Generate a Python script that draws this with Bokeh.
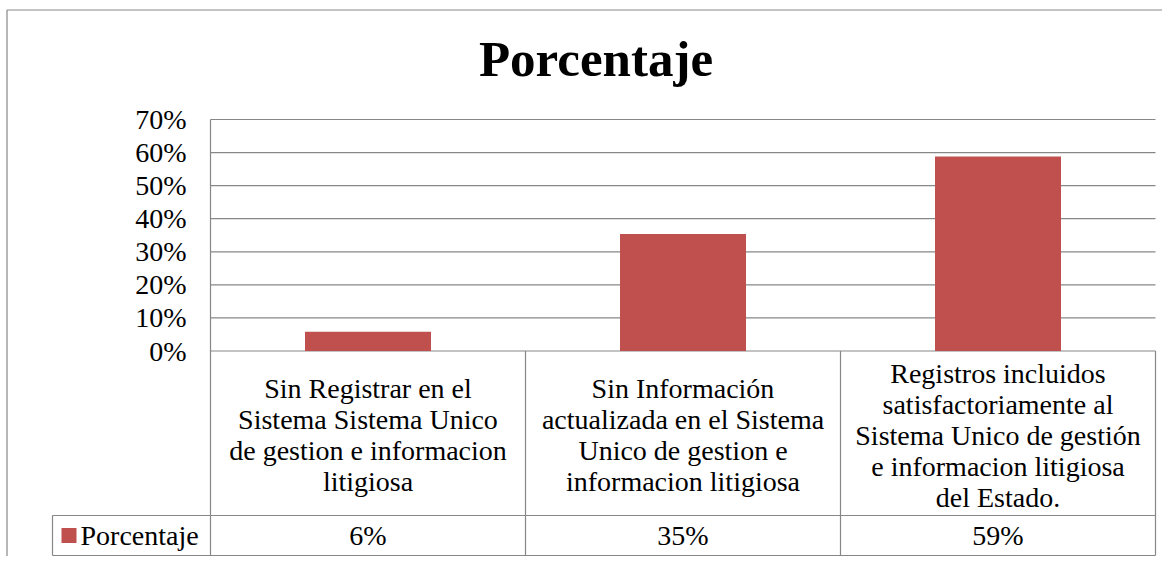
from bokeh.plotting import figure
from bokeh.models import Range1d, LinearAxis, FixedTicker
from bokeh.core.properties import value
from bokeh.embed import file_html
from bokeh.resources import INLINE

# ---------------- data ----------------
title_text = "Porcentaje"
series_name = "Porcentaje"
categories = [
    "Sin Registrar en el\nSistema Sistema Unico\nde gestion e informacion\nlitigiosa",
    "Sin Información\nactualizada en el Sistema\nUnico de gestion e\ninformacion litigiosa",
    "Registros incluidos\nsatisfactoriamente al\nSistema Unico de gestión\ne informacion litigiosa\ndel Estado.",
]
values = [0.058, 0.354, 0.588]
tick_values = [0.0, 0.1, 0.2, 0.3, 0.4, 0.5, 0.6, 0.7]
tick_labels = ["0%", "10%", "20%", "30%", "40%", "50%", "60%", "70%"]

# ---------------- layout (screen pixels of the picture) ----------------
W, H = 1162, 556
OX, OY = 0, 0            # canvas origin in the picture
PL, PR = 210, 1155       # plot area left / right
PT, PZ = 119, 350.5      # top tick line / zero line
ROW1, ROW2 = 515, 555    # bottoms of table rows
LEG_L = 52               # left edge of legend cell
LINE = "#878787"
BAR = "#C0504D"
FONT = "Liberation Serif"
FS = "28px"

n = len(categories)
sx_per = (PR - PL) / n
sy_per = (PZ - PT) / tick_values[-1]


def U(sx):
    return (sx - PL) / sx_per


def V(sy):
    return (PZ - sy) / sy_per


p = figure(width=W, height=H,
           x_range=Range1d(U(OX), U(OX + W)),
           y_range=Range1d(V(OY + H), V(OY)),
           x_axis_type=None, y_axis_type=None,
           toolbar_location=None, output_backend="svg",
           min_border=0, outline_line_color=None)
p.grid.visible = False
p.background_fill_color = "white"
p.border_fill_color = "white"

# outer chart border (left and top visible)
p.segment(x0=[U(6.5), U(6.5)], y0=[V(9.5), V(9.5)],
          x1=[U(6.5), U(OX + W)], y1=[V(OY + H), V(9.5)],
          line_color=LINE, line_width=1.2)

# gridlines
p.segment(x0=[0] * len(tick_values), x1=[n] * len(tick_values),
          y0=tick_values, y1=tick_values, line_color=LINE, line_width=1.2)

# bars
xs = [i + 0.5 for i in range(n)]
p.vbar(x=xs, top=values, bottom=0, width=0.4, fill_color=BAR, line_color=None)

# y axis at the plot-area left edge
ax = LinearAxis(fixed_location=0, bounds=(tick_values[0], tick_values[-1]),
                ticker=FixedTicker(ticks=tick_values),
                major_label_overrides={t: l for t, l in zip(tick_values, tick_labels)},
                major_tick_in=0, major_tick_out=0, minor_tick_in=0, minor_tick_out=0,
                major_label_standoff=PL - 186,
                axis_line_color=LINE, axis_line_width=1.2,
                major_label_text_font=FONT, major_label_text_font_size=FS,
                major_label_text_color="black")
p.add_layout(ax, "left")

# data table lines
y_bot = V(ROW2)
p.segment(x0=[U(LEG_L), U(LEG_L)], x1=[n, n], y0=[V(ROW1), y_bot], y1=[V(ROW1), y_bot],
          line_color=LINE, line_width=1.2)
vx = list(range(n + 1))
p.segment(x0=vx, x1=vx, y0=[0] * len(vx), y1=[y_bot] * len(vx),
          line_color=LINE, line_width=1.2)
p.segment(x0=[U(LEG_L)], x1=[U(LEG_L)], y0=[V(ROW1)], y1=[y_bot],
          line_color=LINE, line_width=1.2)

# category labels
p.text(x=xs, y=[V((PZ + ROW1) / 2 + 2)] * n, text=categories,
       text_align="center", text_baseline="middle", text_line_height=1.0,
       text_font=value(FONT), text_font_size=FS, text_color="black")

# value labels
p.text(x=xs, y=[V((ROW1 + ROW2) / 2)] * n, text=[f"{v:.0%}" for v in values],
       text_align="center", text_baseline="middle",
       text_font=value(FONT), text_font_size=FS, text_color="black")

# legend key
p.scatter(x=[U(LEG_L + 16.5)], y=[V((ROW1 + ROW2) / 2)], marker="square", size=15,
          fill_color=BAR, line_color=None)
p.text(x=[U(LEG_L + 28)], y=[V((ROW1 + ROW2) / 2)], text=[series_name],
       text_align="left", text_baseline="middle",
       text_font=value(FONT), text_font_size=FS, text_color="black")

# title
p.text(x=[U(595.5)], y=[V(58)], text=[title_text], text_align="center",
       text_baseline="alphabetic", text_font=value(FONT), text_font_size="51px",
       text_font_style="bold", text_color="black")

open("out.html", "w").write(file_html(p, INLINE))
